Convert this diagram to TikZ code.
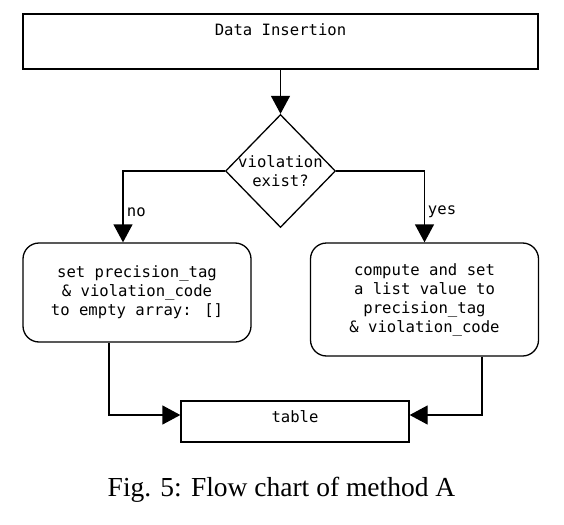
\documentclass[tikz,border=0pt]{standalone}
\usepackage{fontspec}
\setmainfont{DejaVu Sans Mono}
\newfontfamily\capfont{Liberation Serif}
\usetikzlibrary{shapes.geometric,arrows.meta}

\begin{document}
\begin{tikzpicture}[x=1pt,y=-1pt,line width=1.3pt,
        every node/.style={font=\fontsize{15.6}{19}\selectfont},
        box/.style={draw,minimum width=228pt,inner sep=0pt,align=center},
        rbox/.style={box,rounded corners=16pt},
        arr/.style={-{Triangle[length=18pt,width=19pt]}}]

        \useasboundingbox (0,0) rectangle (564,524);

        \node[box,minimum width=515pt,minimum height=55pt,text height=14pt,text depth=25pt] (insert) at (280.5,41.5) {Data Insertion};
        \node[draw,diamond,minimum width=110pt,minimum height=113pt,inner sep=0pt] (check) at (280.5,171) {};
        \node[align=center] (checktext) at (check) {violation\\exist?};

        \node[rbox,minimum height=99pt] (nobox) at (137,292.5) {set precision\_tag\\\& violation\_code\\to empty array: []};
        \node[rbox,minimum height=113pt] (yesbox) at (424.5,299.5) {compute and set\\a list value to\\precision\_tag\\\& violation\_code};
        \node[box,minimum height=41pt,text depth=9pt] (table) at (295,421.5) {table};

        \draw[arr] (insert) -- (check);
        \draw[arr] (check.west) -| ([xshift=-14pt]nobox.north);
        \draw[arr] (check.east) -| (yesbox.north);
        \draw[arr] ([xshift=-28pt]nobox.south) |- ([yshift=6.5pt]table.west);
        \draw[arr] ([xshift=57.5pt]yesbox.south) |- ([yshift=6.5pt]table.east);

        \node[anchor=west] (nolabel) at (123,212) {no};
        \node[anchor=west] (yeslabel) at (424,212) {yes};

        \node[font=\capfont\fontsize{27.5}{30}\selectfont] (caption) at (281.5,490) {Fig. 5: Flow chart of method A};

\end{tikzpicture}
\end{document}
